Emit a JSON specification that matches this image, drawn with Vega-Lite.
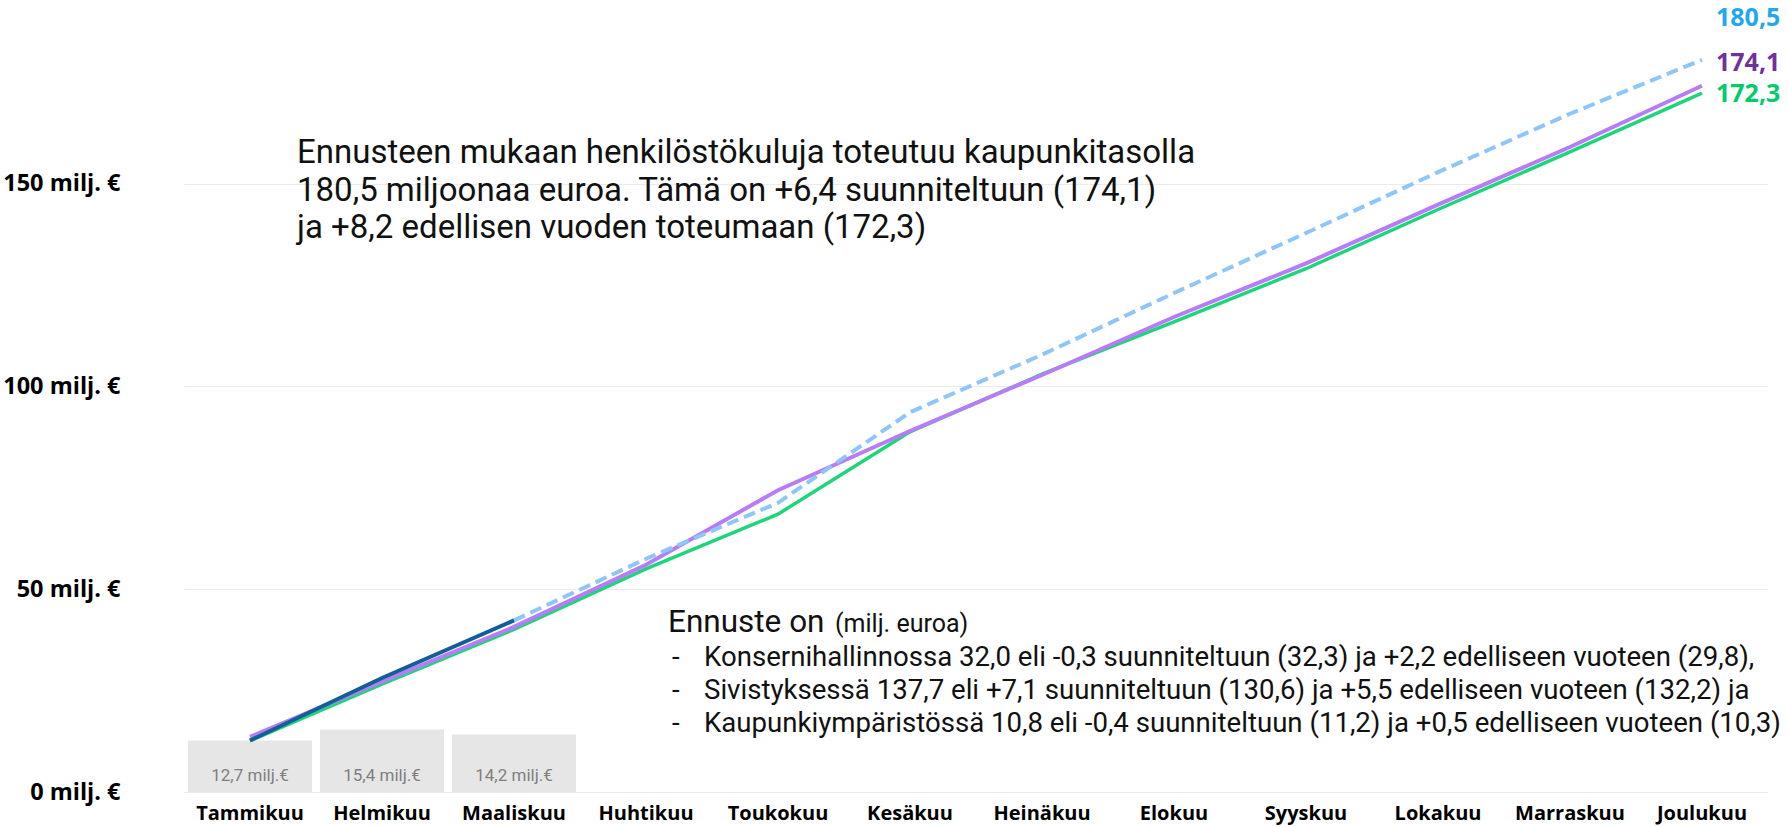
{
  "$schema": "https://vega.github.io/schema/vega-lite/v6.json",
  "width": 1617,
  "height": 791,
  "autosize": {"type": "none"},
  "padding": {"left": 135, "top": 1, "right": 36, "bottom": 35},
  "background": "white",
  "config": {"view": {"stroke": null}, "font": "Open Sans"},
  "datasets": {
    "kumulatiivinen": [
      {"kuukausi": "Tammikuu", "sarja": "Edellinen vuosi", "arvo": 12.6},
      {"kuukausi": "Helmikuu", "sarja": "Edellinen vuosi", "arvo": 26.6},
      {"kuukausi": "Maaliskuu", "sarja": "Edellinen vuosi", "arvo": 40.1},
      {"kuukausi": "Huhtikuu", "sarja": "Edellinen vuosi", "arvo": 55.0},
      {"kuukausi": "Toukokuu", "sarja": "Edellinen vuosi", "arvo": 68.5},
      {"kuukausi": "Kesäkuu", "sarja": "Edellinen vuosi", "arvo": 88.8},
      {"kuukausi": "Heinäkuu", "sarja": "Edellinen vuosi", "arvo": 103.0},
      {"kuukausi": "Elokuu", "sarja": "Edellinen vuosi", "arvo": 115.9},
      {"kuukausi": "Syyskuu", "sarja": "Edellinen vuosi", "arvo": 129.0},
      {"kuukausi": "Lokakuu", "sarja": "Edellinen vuosi", "arvo": 143.6},
      {"kuukausi": "Marraskuu", "sarja": "Edellinen vuosi", "arvo": 157.8},
      {"kuukausi": "Joulukuu", "sarja": "Edellinen vuosi", "arvo": 172.3},
      {"kuukausi": "Tammikuu", "sarja": "Budjetti", "arvo": 13.6},
      {"kuukausi": "Helmikuu", "sarja": "Budjetti", "arvo": 27.2},
      {"kuukausi": "Maaliskuu", "sarja": "Budjetti", "arvo": 40.7},
      {"kuukausi": "Huhtikuu", "sarja": "Budjetti", "arvo": 56.0},
      {"kuukausi": "Toukokuu", "sarja": "Budjetti", "arvo": 74.4},
      {"kuukausi": "Kesäkuu", "sarja": "Budjetti", "arvo": 89.0},
      {"kuukausi": "Heinäkuu", "sarja": "Budjetti", "arvo": 102.8},
      {"kuukausi": "Elokuu", "sarja": "Budjetti", "arvo": 117.1},
      {"kuukausi": "Syyskuu", "sarja": "Budjetti", "arvo": 130.3},
      {"kuukausi": "Lokakuu", "sarja": "Budjetti", "arvo": 144.8},
      {"kuukausi": "Marraskuu", "sarja": "Budjetti", "arvo": 159.0},
      {"kuukausi": "Joulukuu", "sarja": "Budjetti", "arvo": 174.1},
      {"kuukausi": "Maaliskuu", "sarja": "Ennuste", "arvo": 42.3},
      {"kuukausi": "Huhtikuu", "sarja": "Ennuste", "arvo": 57.5},
      {"kuukausi": "Toukokuu", "sarja": "Ennuste", "arvo": 71.3},
      {"kuukausi": "Kesäkuu", "sarja": "Ennuste", "arvo": 93.6},
      {"kuukausi": "Heinäkuu", "sarja": "Ennuste", "arvo": 107.8},
      {"kuukausi": "Elokuu", "sarja": "Ennuste", "arvo": 123.0},
      {"kuukausi": "Syyskuu", "sarja": "Ennuste", "arvo": 137.8},
      {"kuukausi": "Lokakuu", "sarja": "Ennuste", "arvo": 152.8},
      {"kuukausi": "Marraskuu", "sarja": "Ennuste", "arvo": 167.2},
      {"kuukausi": "Joulukuu", "sarja": "Ennuste", "arvo": 180.5},
      {"kuukausi": "Tammikuu", "sarja": "Toteuma", "arvo": 12.7},
      {"kuukausi": "Helmikuu", "sarja": "Toteuma", "arvo": 28.1},
      {"kuukausi": "Maaliskuu", "sarja": "Toteuma", "arvo": 42.3}
    ],
    "kuukausittain": [
      {"kuukausi": "Tammikuu", "arvo": 12.7},
      {"kuukausi": "Helmikuu", "arvo": 15.4},
      {"kuukausi": "Maaliskuu", "arvo": 14.2}
    ],
    "tekstit": [
      {"id": "otsikko", "teksti": "Ennusteen mukaan henkilöstökuluja toteutuu kaupunkitasolla\n180,5 miljoonaa euroa. Tämä on +6,4 suunniteltuun (174,1)\nja +8,2 edellisen vuoden toteumaan (172,3)"},
      {"id": "ennuste", "teksti": "Ennuste on"},
      {"id": "yksikko", "teksti": "(milj. euroa)"},
      {"id": "viivat", "teksti": "-\n-\n-"},
      {"id": "kohdat", "teksti": "Konsernihallinnossa 32,0 eli -0,3 suunniteltuun (32,3) ja +2,2 edelliseen vuoteen (29,8),\nSivistyksessä 137,7 eli +7,1 suunniteltuun (130,6) ja +5,5 edelliseen vuoteen (132,2) ja\nKaupunkiympäristössä 10,8 eli -0,4 suunniteltuun (11,2) ja +0,5 edelliseen vuoteen (10,3)"}
    ]
  },
  "layer": [
    {
      "data": {"name": "kuukausittain"},
      "mark": {"type": "bar", "color": "#E6E6E6"},
      "encoding": {
        "x": {
          "field": "kuukausi", "type": "ordinal",
          "sort": ["Tammikuu","Helmikuu","Maaliskuu","Huhtikuu","Toukokuu","Kesäkuu","Heinäkuu","Elokuu","Syyskuu","Lokakuu","Marraskuu","Joulukuu"],
          "scale": {
            "type": "band",
            "domain": ["Tammikuu","Helmikuu","Maaliskuu","Huhtikuu","Toukokuu","Kesäkuu","Heinäkuu","Elokuu","Syyskuu","Lokakuu","Marraskuu","Joulukuu"],
            "range": [49, 1633],
            "paddingInner": 0.06,
            "paddingOuter": 0.03
          },
          "axis": {
            "title": null, "labelAngle": 0, "domain": false, "ticks": false, "tickSize": 0, "grid": false,
            "labelPadding": 21, "labelBaseline": "middle",
            "labelFont": "Open Sans", "labelFontWeight": "bold", "labelFontSize": 20, "labelColor": "#000000"
          }
        },
        "y": {
          "field": "arvo", "type": "quantitative",
          "scale": {"domain": [0, 195], "nice": false},
          "axis": {
            "title": null, "values": [0, 50, 100, 150],
            "labelExpr": "datum.value + ' milj. €'",
            "domain": false, "ticks": false, "tickSize": 0, "labelPadding": 15,
            "gridColor": "#EBEBEB", "gridWidth": 1,
            "labelFont": "Open Sans", "labelFontWeight": "bold", "labelFontSize": 23.5, "labelColor": "#000000"
          }
        }
      }
    },
    {
      "data": {"name": "kuukausittain"},
      "transform": [{"calculate": "replace(format(datum.arvo, '.1f'), '.', ',') + ' milj.€'", "as": "nimi"}],
      "mark": {"type": "text", "color": "#7F7F7F", "font": "Roboto", "fontSize": 17, "baseline": "middle", "dy": -16},
      "encoding": {
        "x": {"field": "kuukausi", "type": "ordinal"},
        "y": {"datum": 0},
        "text": {"field": "nimi"}
      }
    },
    {
      "data": {"name": "kumulatiivinen"},
      "transform": [{"filter": "datum.sarja === 'Edellinen vuosi'"}],
      "mark": {"type": "line", "color": "#1ED67A", "strokeWidth": 3.5},
      "encoding": {"x": {"field": "kuukausi", "type": "ordinal"}, "y": {"field": "arvo", "type": "quantitative"}}
    },
    {
      "data": {"name": "kumulatiivinen"},
      "transform": [{"filter": "datum.sarja === 'Budjetti'"}],
      "mark": {"type": "line", "color": "#B77CF6", "strokeWidth": 4},
      "encoding": {"x": {"field": "kuukausi", "type": "ordinal"}, "y": {"field": "arvo", "type": "quantitative"}}
    },
    {
      "data": {"name": "kumulatiivinen"},
      "transform": [{"filter": "datum.sarja === 'Ennuste'"}],
      "mark": {"type": "line", "color": "#8CC6FA", "strokeWidth": 4, "strokeDash": [12, 6]},
      "encoding": {"x": {"field": "kuukausi", "type": "ordinal"}, "y": {"field": "arvo", "type": "quantitative"}}
    },
    {
      "data": {"name": "kumulatiivinen"},
      "transform": [{"filter": "datum.sarja === 'Toteuma'"}],
      "mark": {"type": "line", "color": "#125E96", "strokeWidth": 4},
      "encoding": {"x": {"field": "kuukausi", "type": "ordinal"}, "y": {"field": "arvo", "type": "quantitative"}}
    },
    {
      "data": {"name": "kumulatiivinen"},
      "transform": [
        {"filter": "datum.sarja === 'Ennuste' && datum.kuukausi === 'Joulukuu'"},
        {"calculate": "replace(format(datum.arvo, '.1f'), '.', ',')", "as": "nimi"}
      ],
      "mark": {"type": "text", "color": "#1FA8F0", "font": "Open Sans", "fontWeight": "bold", "fontSize": 25, "align": "left", "baseline": "middle", "dx": 14, "dy": -41.5},
      "encoding": {"x": {"field": "kuukausi", "type": "ordinal"}, "y": {"field": "arvo", "type": "quantitative"}, "text": {"field": "nimi"}}
    },
    {
      "data": {"name": "kumulatiivinen"},
      "transform": [
        {"filter": "datum.sarja === 'Budjetti' && datum.kuukausi === 'Joulukuu'"},
        {"calculate": "replace(format(datum.arvo, '.1f'), '.', ',')", "as": "nimi"}
      ],
      "mark": {"type": "text", "color": "#7030A0", "font": "Open Sans", "fontWeight": "bold", "fontSize": 25, "align": "left", "baseline": "middle", "dx": 14, "dy": -22.5},
      "encoding": {"x": {"field": "kuukausi", "type": "ordinal"}, "y": {"field": "arvo", "type": "quantitative"}, "text": {"field": "nimi"}}
    },
    {
      "data": {"name": "kumulatiivinen"},
      "transform": [
        {"filter": "datum.sarja === 'Edellinen vuosi' && datum.kuukausi === 'Joulukuu'"},
        {"calculate": "replace(format(datum.arvo, '.1f'), '.', ',')", "as": "nimi"}
      ],
      "mark": {"type": "text", "color": "#00CC6A", "font": "Open Sans", "fontWeight": "bold", "fontSize": 25, "align": "left", "baseline": "middle", "dx": 14, "dy": 1},
      "encoding": {"x": {"field": "kuukausi", "type": "ordinal"}, "y": {"field": "arvo", "type": "quantitative"}, "text": {"field": "nimi"}}
    },
    {
      "data": {"name": "tekstit"},
      "transform": [{"filter": "datum.id === 'otsikko'"}],
      "mark": {"type": "text", "font": "Roboto", "fontSize": 33, "color": "#111111", "align": "left", "baseline": "top", "lineBreak": "\n", "lineHeight": 37.5, "dx": 47},
      "encoding": {"x": {"datum": "Tammikuu"}, "y": {"datum": 161.4}, "text": {"field": "teksti"}}
    },
    {
      "data": {"name": "tekstit"},
      "transform": [{"filter": "datum.id === 'ennuste'"}],
      "mark": {"type": "text", "font": "Roboto", "fontSize": 31.5, "color": "#111111", "align": "left", "baseline": "alphabetic", "dx": 22},
      "encoding": {"x": {"datum": "Huhtikuu"}, "y": {"datum": 39.5}, "text": {"field": "teksti"}}
    },
    {
      "data": {"name": "tekstit"},
      "transform": [{"filter": "datum.id === 'yksikko'"}],
      "mark": {"type": "text", "font": "Roboto", "fontSize": 25, "color": "#111111", "align": "left", "baseline": "alphabetic", "dx": 189},
      "encoding": {"x": {"datum": "Huhtikuu"}, "y": {"datum": 39.5}, "text": {"field": "teksti"}}
    },
    {
      "data": {"name": "tekstit"},
      "transform": [{"filter": "datum.id === 'viivat'"}],
      "mark": {"type": "text", "font": "Roboto", "fontSize": 27.6, "color": "#111111", "align": "left", "baseline": "top", "lineBreak": "\n", "lineHeight": 33, "dx": 26},
      "encoding": {"x": {"datum": "Huhtikuu"}, "y": {"datum": 36.6}, "text": {"field": "teksti"}}
    },
    {
      "data": {"name": "tekstit"},
      "transform": [{"filter": "datum.id === 'kohdat'"}],
      "mark": {"type": "text", "font": "Roboto", "fontSize": 27.6, "color": "#111111", "align": "left", "baseline": "top", "lineBreak": "\n", "lineHeight": 33, "dx": 58},
      "encoding": {"x": {"datum": "Huhtikuu"}, "y": {"datum": 36.6}, "text": {"field": "teksti"}}
    }
  ]
}
